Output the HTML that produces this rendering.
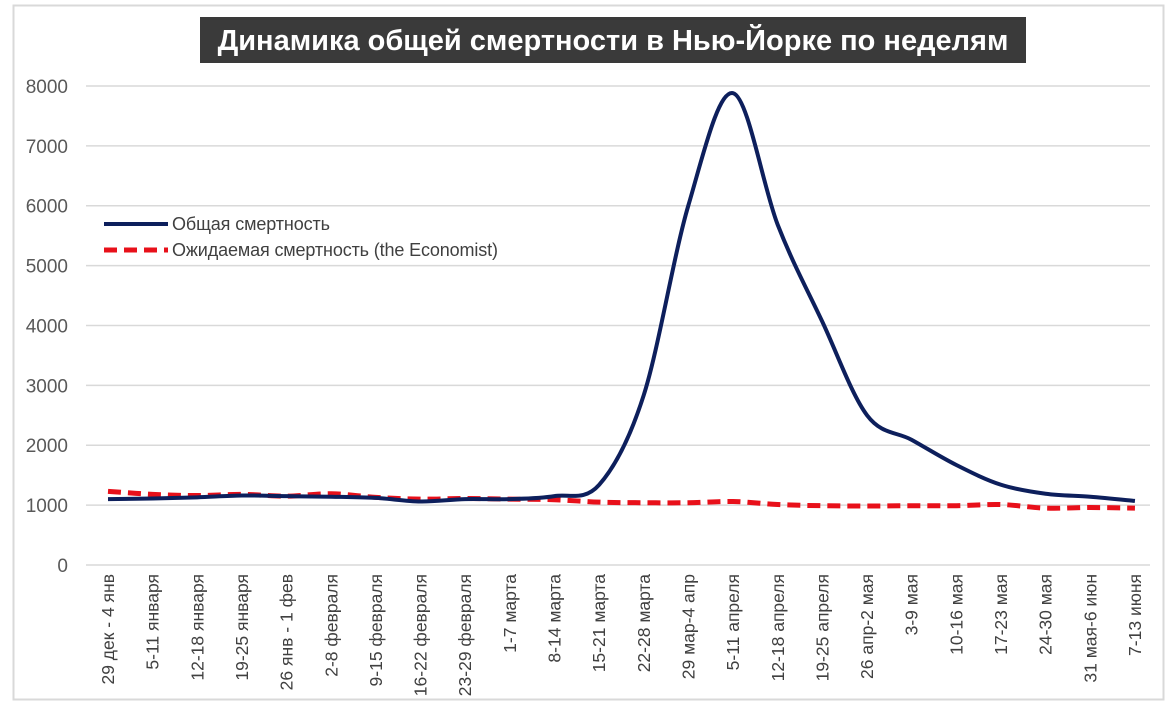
<!DOCTYPE html>
<html><head><meta charset="utf-8"><style>
html,body{margin:0;padding:0;background:#fff;}
body{width:1175px;height:716px;overflow:hidden;font-family:"Liberation Sans",sans-serif;}
</style></head><body>
<svg id="s" width="1175" height="716" xmlns="http://www.w3.org/2000/svg" font-family="Liberation Sans, sans-serif">
<rect x="13.5" y="5.5" width="1150" height="694" fill="#fff" stroke="#d9d9d9" stroke-width="2"/>
<rect x="200" y="17" width="826" height="46" fill="#3a3a3a"/>
<text x="613" y="50" text-anchor="middle" fill="#fff" font-size="29" font-weight="bold">Динамика общей смертности в Нью-Йорке по неделям</text>
<g id="grid"></g>
<g id="lab"></g>
<path id="red" fill="none" stroke="#e8101a" stroke-width="5" stroke-dasharray="13,7"/>
<path id="blue" fill="none" stroke="#0d1f5c" stroke-width="4"/>
<line x1="104" y1="224" x2="168" y2="224" stroke="#0d1f5c" stroke-width="4"/>
<text x="172" y="230" font-size="18" fill="#404040" textLength="158">Общая смертность</text>
<line x1="104" y1="250" x2="168" y2="250" stroke="#e8101a" stroke-width="5" stroke-dasharray="13,7"/>
<text x="172" y="256" font-size="18" fill="#404040" textLength="326">Ожидаемая смертность (the Economist)</text>
</svg>
<script>
var ns="http://www.w3.org/2000/svg";
function Y(v){return 565-v*0.05988;}
function X(i){return 108+i*44.65;}
var g=document.getElementById('grid'),l=document.getElementById('lab');
for(var k=0;k<=8;k++){var y=Y(k*1000);
var ln=document.createElementNS(ns,'line');ln.setAttribute('x1',86);ln.setAttribute('x2',1150);ln.setAttribute('y1',y);ln.setAttribute('y2',y);ln.setAttribute('stroke','#d9d9d9');ln.setAttribute('stroke-width','1.5');g.appendChild(ln);
var t=document.createElementNS(ns,'text');t.setAttribute('x',68);t.setAttribute('y',y+7);t.setAttribute('text-anchor','end');t.setAttribute('font-size','19');t.setAttribute('fill','#595959');t.textContent=k*1000;g.appendChild(t);}
var labs=["29 дек - 4 янв","5-11 января","12-18 января","19-25 января","26 янв - 1 фев","2-8 февраля","9-15 февраля","16-22 февраля","23-29 февраля","1-7 марта","8-14 марта","15-21 марта","22-28 марта","29 мар-4 апр","5-11 апреля","12-18 апреля","19-25 апреля","26 апр-2 мая","3-9 мая","10-16 мая","17-23 мая","24-30 мая","31 мая-6 июн","7-13 июня"];
labs.forEach(function(s,i){var t=document.createElementNS(ns,'text');var x=X(i)+6,y=574;t.setAttribute('transform','translate('+x+','+y+') rotate(-90)');t.setAttribute('text-anchor','end');t.setAttribute('font-size','17.5');t.setAttribute('fill','#404040');t.textContent=s;l.appendChild(t);});
var blue=[1100,1110,1130,1160,1150,1140,1120,1060,1100,1100,1150,1340,2840,6010,7880,5680,4060,2500,2090,1670,1340,1190,1140,1070];
var red=[1230,1180,1160,1180,1150,1190,1130,1100,1110,1100,1090,1050,1040,1040,1060,1010,990,985,990,990,1010,950,960,950];
function path(d){var p=d.map(function(v,i){return [X(i),Y(v)];});var s='M'+p[0][0]+','+p[0][1];
for(var i=0;i<p.length-1;i++){var p0=p[Math.max(0,i-1)],p1=p[i],p2=p[i+1],p3=p[Math.min(p.length-1,i+2)];
var c1=[p1[0]+(p2[0]-p0[0])/6,p1[1]+(p2[1]-p0[1])/6],c2=[p2[0]-(p3[0]-p1[0])/6,p2[1]-(p3[1]-p1[1])/6];
s+=' C'+c1+' '+c2+' '+p2;}return s;}
document.getElementById('blue').setAttribute('d',path(blue));
document.getElementById('red').setAttribute('d',path(red));
</script>
</body></html>
